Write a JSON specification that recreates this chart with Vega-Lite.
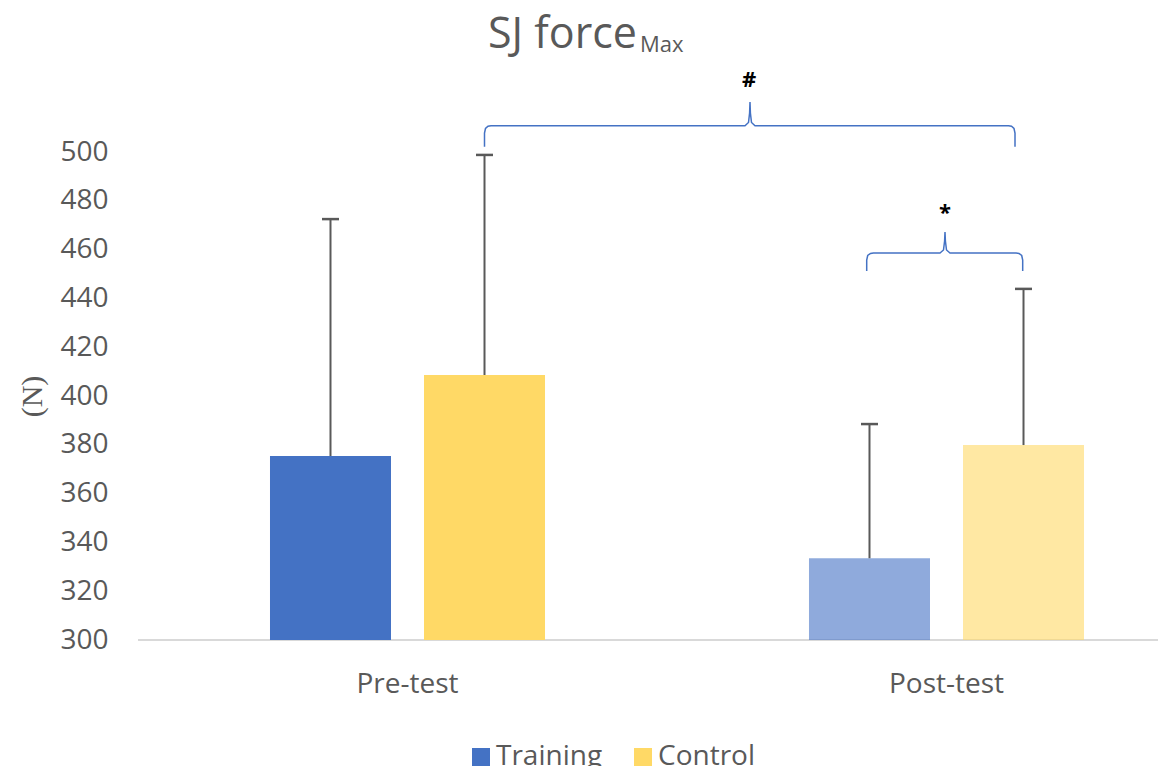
{
  "$schema": "https://vega.github.io/schema/vega-lite/v6.json",
  "width": 1020,
  "height": 488,
  "autosize": {"type": "none"},
  "padding": {"left": 138, "top": 152, "right": 5, "bottom": 126},
  "title": {
    "text": "SJ force",
    "anchor": "start",
    "frame": "group",
    "dx": 350,
    "offset": -23,
    "font": "Open Sans",
    "fontSize": 43,
    "fontWeight": "normal",
    "color": "#595959"
  },
  "datasets": {
    "bars": [
      {"phase": "Pre-test", "group": "Training", "value": 375.4, "upper": 472.5},
      {"phase": "Pre-test", "group": "Control", "value": 408.6, "upper": 498.8},
      {"phase": "Post-test", "group": "Training", "value": 333.5, "upper": 388.5},
      {"phase": "Post-test", "group": "Control", "value": 379.9, "upper": 443.9}
    ],
    "braces": [
      {"brace": "pre-post", "i": 1, "bx": 0.64286, "by": 502.17},
      {"brace": "pre-post", "i": 2, "bx": 0.64286, "by": 507.79},
      {"brace": "pre-post", "i": 3, "bx": 0.64471, "by": 509.63},
      {"brace": "pre-post", "i": 4, "bx": 0.64935, "by": 510.57},
      {"brace": "pre-post", "i": 5, "bx": 0.65492, "by": 510.78},
      {"brace": "pre-post", "i": 6, "bx": 1.12616, "by": 510.78},
      {"brace": "pre-post", "i": 7, "bx": 1.13265, "by": 512.09},
      {"brace": "pre-post", "i": 8, "bx": 1.13469, "by": 515.98},
      {"brace": "pre-post", "i": 9, "bx": 1.13544, "by": 520.49},
      {"brace": "pre-post", "i": 10, "bx": 1.13618, "by": 515.98},
      {"brace": "pre-post", "i": 11, "bx": 1.13822, "by": 512.09},
      {"brace": "pre-post", "i": 12, "bx": 1.14471, "by": 510.78},
      {"brace": "pre-post", "i": 13, "bx": 1.61503, "by": 510.78},
      {"brace": "pre-post", "i": 14, "bx": 1.62059, "by": 510.57},
      {"brace": "pre-post", "i": 15, "bx": 1.62523, "by": 509.63},
      {"brace": "pre-post", "i": 16, "bx": 1.62709, "by": 507.79},
      {"brace": "pre-post", "i": 17, "bx": 1.62709, "by": 502.17},
      {"brace": "post", "i": 1, "bx": 1.35195, "by": 451.23},
      {"brace": "post", "i": 2, "bx": 1.35195, "by": 455.74},
      {"brace": "post", "i": 3, "bx": 1.3538, "by": 457.58},
      {"brace": "post", "i": 4, "bx": 1.359, "by": 458.4},
      {"brace": "post", "i": 5, "bx": 1.36456, "by": 458.61},
      {"brace": "post", "i": 6, "bx": 1.48794, "by": 458.61},
      {"brace": "post", "i": 7, "bx": 1.49443, "by": 459.84},
      {"brace": "post", "i": 8, "bx": 1.49647, "by": 463.52},
      {"brace": "post", "i": 9, "bx": 1.49722, "by": 467.21},
      {"brace": "post", "i": 10, "bx": 1.49796, "by": 463.52},
      {"brace": "post", "i": 11, "bx": 1.5, "by": 459.84},
      {"brace": "post", "i": 12, "bx": 1.50649, "by": 458.61},
      {"brace": "post", "i": 13, "bx": 1.62894, "by": 458.61},
      {"brace": "post", "i": 14, "bx": 1.63451, "by": 458.4},
      {"brace": "post", "i": 15, "bx": 1.63952, "by": 457.58},
      {"brace": "post", "i": 16, "bx": 1.64137, "by": 455.74},
      {"brace": "post", "i": 17, "bx": 1.64137, "by": 451.23}
    ],
    "notes": [
      {"label": "#", "bx": 1.13358, "by": 529.5},
      {"label": "*", "bx": 1.49722, "by": 475.0}
    ]
  },
  "layer": [
    {
      "data": {"name": "bars"},
      "layer": [
        {
          "mark": {"type": "rule", "color": "#D9D9D9", "strokeWidth": 1.5},
          "encoding": {"y": {"datum": 300, "type": "quantitative"}}
        },
        {
          "mark": {"type": "bar"},
          "encoding": {
            "x": {
              "field": "phase",
              "type": "nominal",
              "sort": ["Pre-test", "Post-test"],
              "scale": {"range": [0, 1078], "paddingInner": 0, "paddingOuter": 0},
              "axis": {
                "title": null,
                "domain": false,
                "ticks": false,
                "tickSize": 0,
                "labelAngle": 0,
                "labelFont": "Open Sans",
                "labelFontSize": 28,
                "labelColor": "#595959",
                "labelPadding": 30
              }
            },
            "xOffset": {
              "field": "group",
              "type": "nominal",
              "sort": ["Training", "Control"],
              "scale": {"paddingInner": 0.2143, "paddingOuter": 0.857}
            },
            "y": {
              "field": "value",
              "type": "quantitative",
              "scale": {"domain": [300, 500], "zero": false, "nice": false},
              "axis": {
                "title": "(N)",
                "titleFont": "Liberation Serif",
                "titleFontSize": 30,
                "titleFontWeight": "normal",
                "titleColor": "#595959",
                "titlePadding": 12,
                "values": [300, 320, 340, 360, 380, 400, 420, 440, 460, 480, 500],
                "domain": false,
                "ticks": false,
                "tickSize": 0,
                "grid": false,
                "labelFont": "Open Sans",
                "labelFontSize": 28,
                "labelColor": "#595959",
                "labelPadding": 30
              }
            },
            "y2": {"datum": 300},
            "color": {
              "field": "group",
              "type": "nominal",
              "scale": {"domain": ["Training", "Control"], "range": ["#4472C4", "#FFD966"]},
              "legend": {
                "title": null,
                "orient": "none",
                "direction": "horizontal",
                "legendX": 329,
                "legendY": 591,
                "symbolType": "square",
                "symbolSize": 324,
                "symbolStrokeWidth": 0,
                "labelFont": "Open Sans",
                "labelFontSize": 28,
                "labelColor": "#595959",
                "labelOffset": 1,
                "columnPadding": 26
              }
            },
            "opacity": {
              "field": "phase",
              "type": "nominal",
              "scale": {"domain": ["Pre-test", "Post-test"], "range": [1, 0.6]},
              "legend": null
            }
          }
        },
        {
          "mark": {"type": "rule", "color": "#595959", "strokeWidth": 2},
          "encoding": {
            "x": {"field": "phase", "type": "nominal", "sort": ["Pre-test", "Post-test"]},
            "xOffset": {"field": "group", "type": "nominal", "sort": ["Training", "Control"]},
            "y": {"field": "value", "type": "quantitative"},
            "y2": {"field": "upper"}
          }
        },
        {
          "mark": {"type": "tick", "color": "#595959", "size": 17, "thickness": 2.5, "opacity": 1},
          "encoding": {
            "x": {"field": "phase", "type": "nominal", "sort": ["Pre-test", "Post-test"]},
            "xOffset": {"field": "group", "type": "nominal", "sort": ["Training", "Control"]},
            "y": {"field": "upper", "type": "quantitative"}
          }
        }
      ]
    },
    {
      "layer": [
        {
          "data": {"name": "braces"},
          "mark": {"type": "line", "color": "#4472C4", "strokeWidth": 1.5},
          "encoding": {
            "x": {"field": "bx", "type": "quantitative", "scale": {"domain": [0, 2], "range": [0, 1078], "nice": false, "zero": false}, "axis": null},
            "y": {"field": "by", "type": "quantitative"},
            "detail": {"field": "brace"},
            "order": {"field": "i", "type": "quantitative"}
          }
        },
        {
          "data": {"name": "notes"},
          "mark": {"type": "text", "color": "#000000", "font": "Open Sans", "fontSize": 22, "fontWeight": "bold", "baseline": "middle", "align": "center"},
          "encoding": {
            "x": {"field": "bx", "type": "quantitative", "axis": null},
            "y": {"field": "by", "type": "quantitative"},
            "text": {"field": "label"}
          }
        },
        {
          "data": {"values": [{"sub": "Max"}]},
          "mark": {"type": "text", "color": "#595959", "font": "Open Sans", "fontSize": 22, "baseline": "alphabetic", "align": "left"},
          "encoding": {
            "x": {"datum": 0.9314, "type": "quantitative", "axis": null},
            "y": {"datum": 541.0, "type": "quantitative"},
            "text": {"field": "sub"}
          }
        }
      ]
    }
  ],
  "resolve": {"scale": {"x": "independent"}, "axis": {"x": "independent"}},
  "config": {"view": {"stroke": null}, "font": "Open Sans"}
}
